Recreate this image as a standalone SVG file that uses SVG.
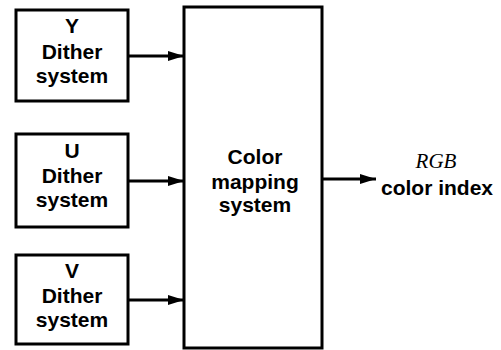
<svg xmlns="http://www.w3.org/2000/svg" width="501" height="350" viewBox="0 0 501 350">
<defs>
<marker id="ah" markerWidth="16" markerHeight="10" refX="16" refY="5" orient="auto" markerUnits="userSpaceOnUse">
<path d="M0,0 L16,5 L0,10 Z" fill="#000"/>
</marker>
</defs>
<style>
.box{fill:#fff;stroke:#000;stroke-width:3}
.t{font-family:"Liberation Sans",Arial,sans-serif;font-weight:bold;font-size:21px;text-anchor:middle;fill:#000}
.c{stroke:#000;stroke-width:3;fill:none}
</style>
<rect width="501" height="350" fill="#fff"/>
<g id="y-dither">
<rect class="box" x="16" y="10" width="112" height="91"/>
<text class="t" x="72" y="33">Y</text>
<text class="t" x="72" y="59">Dither</text>
<text class="t" x="72" y="83">system</text>
</g>
<g id="u-dither">
<rect class="box" x="16" y="134" width="112" height="93"/>
<text class="t" x="72" y="158">U</text>
<text class="t" x="72" y="183">Dither</text>
<text class="t" x="72" y="207">system</text>
</g>
<g id="v-dither">
<rect class="box" x="16" y="255" width="112" height="89"/>
<text class="t" x="72" y="278">V</text>
<text class="t" x="72" y="303">Dither</text>
<text class="t" x="72" y="327">system</text>
</g>
<g id="color-mapping">
<rect class="box" x="184" y="7" width="138" height="341"/>
<text class="t" x="255" y="164">Color</text>
<text class="t" x="255" y="189">mapping</text>
<text class="t" x="255" y="212">system</text>
</g>
<g id="output">
<text x="436" y="168" font-family="'Liberation Serif','Times New Roman',serif" font-style="italic" font-size="21" text-anchor="middle">RGB</text>
<text class="t" x="437" y="195">color index</text>
</g>
<g id="connectors">
<line class="c" x1="128" y1="56" x2="184" y2="56" marker-end="url(#ah)"/>
<line class="c" x1="128" y1="181" x2="184" y2="181" marker-end="url(#ah)"/>
<line class="c" x1="128" y1="300" x2="184" y2="300" marker-end="url(#ah)"/>
<line class="c" x1="322" y1="179" x2="376" y2="179" marker-end="url(#ah)"/>
</g>
</svg>
